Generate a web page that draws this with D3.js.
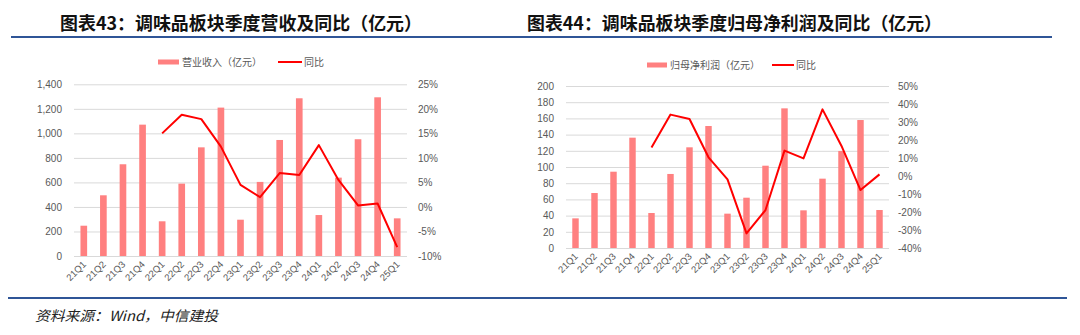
<!DOCTYPE html>
<html><head><meta charset="utf-8">
<script src="https://cdn.jsdelivr.net/npm/d3@7/dist/d3.min.js"></script>
<style>
html,body{margin:0;padding:0;background:#fff;}
svg{display:block;}
</style></head>
<body><svg id="c" width="1080" height="335"></svg>
<script>
const categories = ["21Q1","21Q2","21Q3","21Q4","22Q1","22Q2","22Q3","22Q4","23Q1","23Q2","23Q3","23Q4","24Q1","24Q2","24Q3","24Q4","25Q1"];
const revenue = [247,495,748,1071,283,590,886,1210,296,604,946,1286,334,639,952,1294,307];
const revenueYoY = [null,null,null,null,15.0,18.8,17.9,12.3,4.5,2.0,6.9,6.5,12.6,5.5,0.3,0.7,-8.2];
const profit = [36.6,67.9,94.2,136.2,43.2,91.4,124.3,150.6,42.4,62.1,101.6,172.4,46.5,85.6,119.8,158,46.9];
const profitYoY = [null,null,null,null,15.9,34.1,31.7,10.4,-1.9,-31.9,-18.9,14.1,9.8,37.0,16.7,-7.8,0.9];
const revTicks = [0,200,400,600,800,1000,1200,1400];
const revPctTicks = [-10,-5,0,5,10,15,20,25];
const profTicks = [0,20,40,60,80,100,120,140,160,180,200];
const profPctTicks = [-40,-30,-20,-10,0,10,20,30,40,50];
const title1 = "图表43：调味品板块季度营收及同比（亿元）";
const title2 = "图表44：调味品板块季度归母净利润及同比（亿元）";
const legendBar1 = "营业收入（亿元）";
const legendBar2 = "归母净利润（亿元）";
const legendLine = "同比";
const source = "资料来源：Wind，中信建投";

const svg = d3.select("#c");
svg.append("rect").attr("width",1080).attr("height",335).attr("fill","#fff");

const BAR = "#ff8080", LINE = "#ff0000", GRID = "#d9d9d9", AX = "#595959";
const numFont = "'Liberation Sans', Arial, sans-serif";
const cjkFont = "'Noto Sans CJK SC', sans-serif";

// titles
svg.append("text").attr("x",60).attr("y",30).text(title1)
  .attr("font-family",cjkFont).attr("font-weight","bold").attr("font-size",18).attr("fill","#111")
  .attr("textLength",362).attr("lengthAdjust","spacingAndGlyphs");
svg.append("text").attr("x",527).attr("y",30).text(title2)
  .attr("font-family",cjkFont).attr("font-weight","bold").attr("font-size",18).attr("fill","#111")
  .attr("textLength",415).attr("lengthAdjust","spacingAndGlyphs");
svg.append("line").attr("x1",11).attr("x2",1052).attr("y1",37).attr("y2",37)
  .attr("stroke","#2f5597").attr("stroke-width",2);
svg.append("line").attr("x1",8).attr("x2",1067).attr("y1",298).attr("y2",298)
  .attr("stroke","#2f5597").attr("stroke-width",2);
svg.append("text").attr("x",35).attr("y",321).text(source)
  .attr("font-family",cjkFont).attr("font-style","italic").attr("font-size",14).attr("fill","#222")
  .attr("textLength",183).attr("lengthAdjust","spacingAndGlyphs");

function chart(o){
  const x = d3.scaleBand().domain(categories).range([o.x0,o.x1]).paddingInner(0.66).paddingOuter(0.33);
  const y = d3.scaleLinear().domain([o.ticks[0],o.ticks[o.ticks.length-1]]).range([o.yb,o.yt]);
  const y2 = d3.scaleLinear().domain([o.pticks[0],o.pticks[o.pticks.length-1]]).range([o.yb,o.yt]);
  const g = svg.append("g");
  // gridlines
  const yAxisL = d3.axisLeft(y).tickValues(o.ticks).tickSize(-(o.x1-o.x0)).tickPadding(12)
    .tickFormat(d3.format(","));
  const gl = g.append("g").attr("transform",`translate(${o.x0},0)`).call(yAxisL);
  gl.select(".domain").remove();
  gl.selectAll(".tick line").attr("stroke",GRID).attr("stroke-width",1);
  gl.selectAll(".tick text").attr("fill",AX).attr("font-family",numFont).attr("font-size",10);
  const yAxisR = d3.axisRight(y2).tickValues(o.pticks).tickSize(0).tickPadding(o.rpad)
    .tickFormat(d=>d+"%");
  const gr = g.append("g").attr("transform",`translate(${o.x1},0)`).call(yAxisR);
  gr.select(".domain").remove();
  gr.selectAll(".tick text").attr("fill",AX).attr("font-family",numFont).attr("font-size",10);
  // bars
  g.append("g").selectAll("rect").data(o.bars).join("rect")
    .attr("x",(d,i)=>x(categories[i])).attr("width",x.bandwidth())
    .attr("y",d=>y(d)).attr("height",d=>y(0)-y(d)).attr("fill",BAR);
  // x axis
  const xa = d3.axisBottom(x).tickSize(0).tickPadding(0);
  const gx = g.append("g").attr("transform",`translate(0,${o.yb})`).call(xa);
  gx.select(".domain").remove();
  gx.selectAll(".tick text").attr("fill",AX).attr("font-family",numFont).attr("font-size",9.5)
    .attr("text-anchor","end").attr("dy",0).attr("y",0)
    .attr("transform","translate(3,9) rotate(-45)");
  // line
  const line = d3.line().defined(d=>d!=null)
    .x((d,i)=>x(categories[i])+x.bandwidth()/2).y(d=>y2(d));
  g.append("path").datum(o.yoy).attr("d",line).attr("fill","none")
    .attr("stroke",LINE).attr("stroke-width",2).attr("stroke-linejoin","round");
  // legend
  const L = o.legend;
  g.append("rect").attr("x",L.bx).attr("y",L.y-2.5).attr("width",L.bw).attr("height",5).attr("fill",BAR);
  g.append("text").attr("x",L.bx+L.bw+3).attr("y",L.y+3.5).text(o.barName)
    .attr("font-family",cjkFont).attr("font-size",10).attr("fill",AX);
  g.append("line").attr("x1",L.lx).attr("x2",L.lx+L.lw).attr("y1",L.y).attr("y2",L.y)
    .attr("stroke",LINE).attr("stroke-width",2);
  g.append("text").attr("x",L.lx+L.lw+2).attr("y",L.y+3.5).text(legendLine)
    .attr("font-family",cjkFont).attr("font-size",10).attr("fill",AX);
}

chart({x0:74,x1:407,yt:84.3,yb:256,ticks:revTicks,pticks:revPctTicks,rpad:11,
  bars:revenue,yoy:revenueYoY,barName:legendBar1,
  legend:{bx:158,bw:21,lx:278,lw:24,y:62}});
chart({x0:566,x1:889,yt:86,yb:248,ticks:profTicks,pticks:profPctTicks,rpad:9,
  bars:profit,yoy:profitYoY,barName:legendBar2,
  legend:{bx:647,bw:20,lx:772,lw:22,y:65}});
</script></body></html>
